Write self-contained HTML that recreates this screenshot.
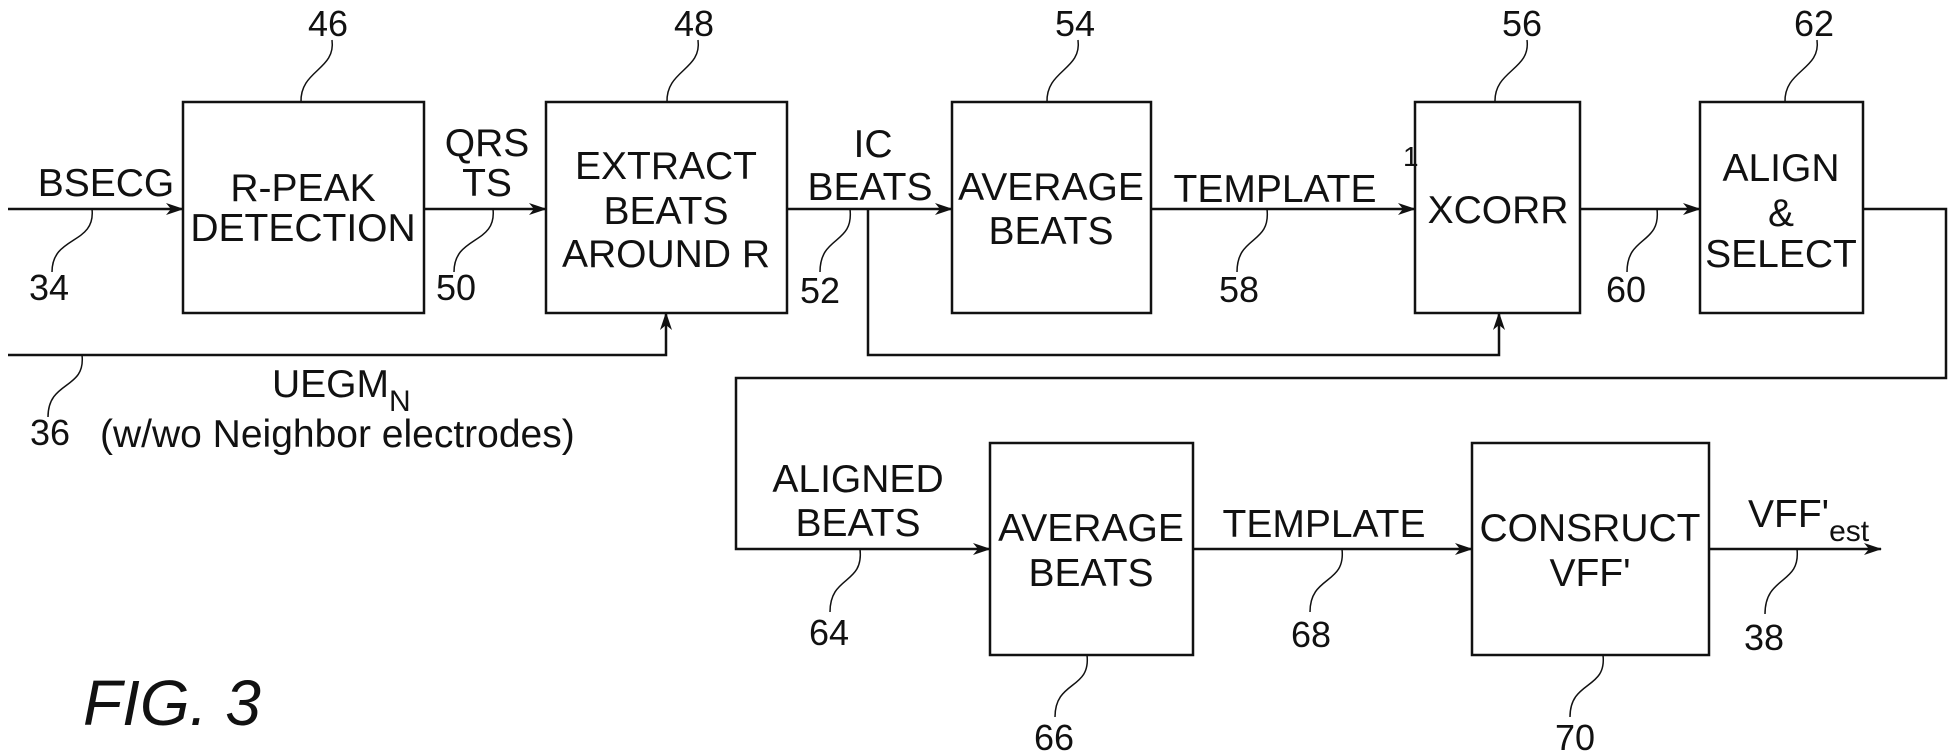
<!DOCTYPE html>
<html><head><meta charset="utf-8"><style>
html,body{margin:0;padding:0;background:#fff}
svg{display:block}
text{font-family:"Liberation Sans",sans-serif;fill:#111}
</style></head><body>
<svg width="1949" height="756" viewBox="0 0 1949 756" xmlns="http://www.w3.org/2000/svg">
<defs>
<marker id="a" markerWidth="18" markerHeight="12" refX="17" refY="6" orient="auto" markerUnits="userSpaceOnUse">
<path d="M0,0 L18,6 L0,12 L5,6 z" fill="#111"/>
</marker>
</defs>
<g fill="none" stroke="#111" stroke-width="2.5">
<!-- top row boxes -->
<rect x="183" y="102" width="241" height="211"/>
<rect x="546" y="102" width="241" height="211"/>
<rect x="952" y="102" width="199" height="211"/>
<rect x="1415" y="102" width="165" height="211"/>
<rect x="1700" y="102" width="163" height="211"/>
<!-- bottom row boxes -->
<rect x="990" y="443" width="203" height="212"/>
<rect x="1472" y="443" width="237" height="212"/>
<!-- connectors -->
<line x1="8" y1="209" x2="183" y2="209" marker-end="url(#a)"/>
<line x1="424" y1="209" x2="546" y2="209" marker-end="url(#a)"/>
<line x1="787" y1="209" x2="952" y2="209" marker-end="url(#a)"/>
<line x1="1151" y1="209" x2="1415" y2="209" marker-end="url(#a)"/>
<line x1="1580" y1="209" x2="1700" y2="209" marker-end="url(#a)"/>
<polyline points="8,355 666,355 666,313" marker-end="url(#a)"/>
<polyline points="868,209 868,355 1499,355 1499,313" marker-end="url(#a)"/>
<polyline points="1863,209 1946,209 1946,378 736,378 736,549 990,549" marker-end="url(#a)"/>
<line x1="1193" y1="549" x2="1472" y2="549" marker-end="url(#a)"/>
<line x1="1709" y1="549" x2="1881" y2="549" marker-end="url(#a)"/>
</g>
<g fill="none" stroke="#111" stroke-width="1.5">
<path d="M332,40 C336,70 300,70 301,102"/>
<path d="M698,40 C702,70 666,70 667,102"/>
<path d="M1078,40 C1082,70 1046,70 1047,102"/>
<path d="M1527,40 C1531,70 1494,70 1495,102"/>
<path d="M1817,40 C1821,70 1784,70 1785,102"/>
<path d="M92,209 C96,245 52,235 52,272"/>
<path d="M493,209 C497,245 454,235 454,272"/>
<path d="M850,209 C854,245 820,235 820,272"/>
<path d="M1267,209 C1271,245 1237,235 1237,272"/>
<path d="M1657,209 C1661,245 1627,235 1627,272"/>
<path d="M82,355 C86,390 48,380 48,417"/>
<path d="M860,549 C864,585 830,575 830,612"/>
<path d="M1342,549 C1346,585 1310,575 1310,612"/>
<path d="M1797,549 C1801,585 1765,575 1765,614"/>
<path d="M1087,655 C1091,690 1055,680 1055,717"/>
<path d="M1603,655 C1607,690 1570,680 1570,717"/>
</g>
<g font-size="39" text-anchor="middle">
<text x="106" y="196">BSECG</text>
<text x="303" y="201">R-PEAK</text>
<text x="303" y="241">DETECTION</text>
<text x="487" y="156">QRS</text>
<text x="487" y="196">TS</text>
<text x="666" y="179">EXTRACT</text>
<text x="666" y="224">BEATS</text>
<text x="666" y="267">AROUND R</text>
<text x="873" y="157">IC</text>
<text x="870" y="200">BEATS</text>
<text x="1051" y="200">AVERAGE</text>
<text x="1051" y="244">BEATS</text>
<text x="1275" y="202">TEMPLATE</text>
<text x="1498" y="223">XCORR</text>
<text x="1781" y="181">ALIGN</text>
<text x="1781" y="226">&amp;</text>
<text x="1781" y="267">SELECT</text>
<text x="858" y="492">ALIGNED</text>
<text x="858" y="536">BEATS</text>
<text x="1091" y="541">AVERAGE</text>
<text x="1091" y="586">BEATS</text>
<text x="1324" y="537">TEMPLATE</text>
<text x="1590" y="541">CONSRUCT</text>
<text x="1590" y="586">VFF'</text>
</g>
<text x="1403" y="166" font-size="28">1</text>
<text x="1748" y="527" font-size="39">VFF'<tspan font-size="30" dy="14">est</tspan></text>
<text x="272" y="397" font-size="39">UEGM<tspan font-size="30" dy="14">N</tspan></text>
<text x="100" y="447" font-size="39">(w/wo Neighbor electrodes)</text>
<g font-size="36" text-anchor="middle">
<text x="328" y="36">46</text>
<text x="694" y="36">48</text>
<text x="1075" y="36">54</text>
<text x="1522" y="36">56</text>
<text x="1814" y="36">62</text>
<text x="49" y="300">34</text>
<text x="456" y="300">50</text>
<text x="820" y="303">52</text>
<text x="1239" y="302">58</text>
<text x="1626" y="302">60</text>
<text x="50" y="445">36</text>
<text x="829" y="645">64</text>
<text x="1311" y="647">68</text>
<text x="1764" y="650">38</text>
<text x="1054" y="750">66</text>
<text x="1575" y="750">70</text>
</g>
<text x="83" y="725" font-size="64" font-style="italic">FIG. 3</text>
</svg>
</body></html>
